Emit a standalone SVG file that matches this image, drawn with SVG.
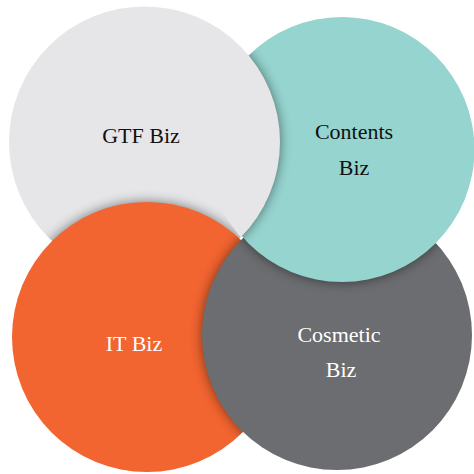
<svg xmlns="http://www.w3.org/2000/svg" xmlns:xlink="http://www.w3.org/1999/xlink" width="474" height="474" viewBox="0 0 474 474">
  <style>
    .lbl { font-family: "Liberation Serif", "DejaVu Serif", serif; font-size: 22px; text-anchor: middle; }
    .dark { fill: #111111; }
    .light { fill: #ffffff; }
    .shadow { fill: #000000; opacity: 0.5; }
  </style>
  <defs>
    <filter id="blur" x="-20%" y="-20%" width="140%" height="140%">
      <feGaussianBlur stdDeviation="6"/>
    </filter>
    <clipPath id="clipGray"><circle cx="144.5" cy="142" r="135.5"/></clipPath>
    <clipPath id="clipOrange"><circle cx="147" cy="337" r="135"/></clipPath>
    <clipPath id="clipDark"><circle cx="337" cy="335" r="135"/></clipPath>
    <clipPath id="clipTeal"><circle cx="342" cy="149.5" r="132.5"/></clipPath>
    <clipPath id="clipTealWide"><circle cx="342" cy="149.5" r="134"/></clipPath>
  </defs>
  <rect width="474" height="474" fill="#ffffff"/>

  <g id="node-gtf">
    <circle cx="144.5" cy="142" r="135.5" fill="#e6e6e8"/>
    <text class="lbl dark" x="141" y="143">GTF Biz</text>
  </g>

  <g id="node-it">
    <g clip-path="url(#clipGray)">
      <circle class="shadow" cx="147" cy="337" r="135" filter="url(#blur)"/>
    </g>
    <circle cx="147" cy="337" r="135" fill="#f26430"/>
    <text class="lbl light" x="134" y="351">IT Biz</text>
  </g>

  <g id="node-cosmetic">
    <g clip-path="url(#clipOrange)">
      <circle class="shadow" cx="337" cy="335" r="135" filter="url(#blur)"/>
    </g>
    <circle cx="337" cy="335" r="135" fill="#6c6d70"/>
    <text class="lbl light" x="339" y="342">Cosmetic</text>
    <text class="lbl light" x="341" y="377">Biz</text>
  </g>

  <g id="node-contents">
    <g clip-path="url(#clipDark)">
      <circle class="shadow" cx="342" cy="149.5" r="132.5" filter="url(#blur)"/>
    </g>
    <circle cx="342" cy="149.5" r="132.5" fill="#96d4cf"/>
    <text class="lbl dark" x="354" y="139">Contents</text>
    <text class="lbl dark" x="354" y="175">Biz</text>
  </g>

  <g id="node-gtf-front">
    <g clip-path="url(#clipTeal)">
      <circle class="shadow" cx="144.5" cy="142" r="135.5" filter="url(#blur)"/>
    </g>
    <g clip-path="url(#clipTealWide)">
      <circle cx="144.5" cy="142" r="135.5" fill="#e6e6e8"/>
    </g>
  </g>
</svg>
